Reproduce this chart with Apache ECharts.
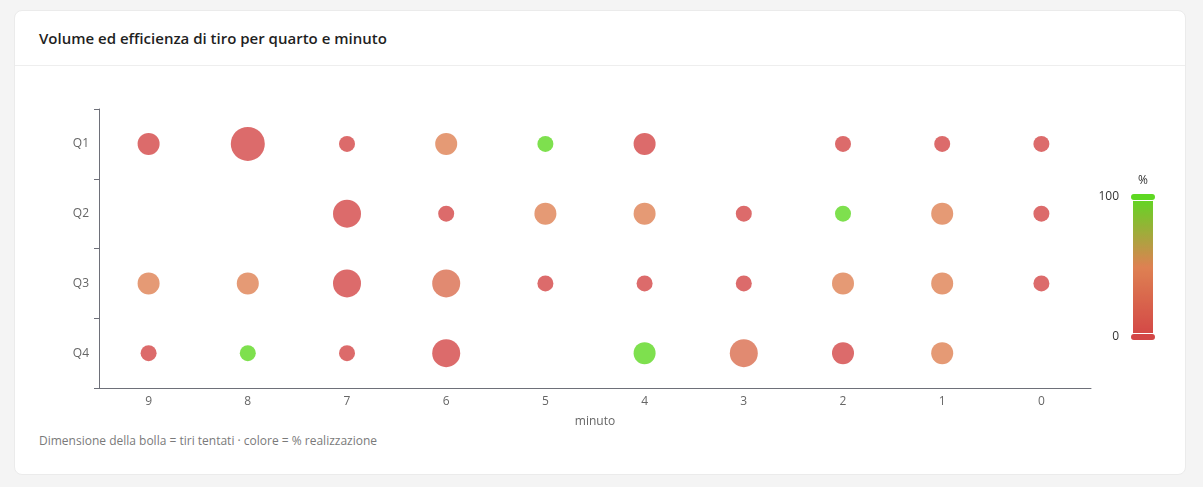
<!DOCTYPE html>
<html>
<head>
<meta charset="utf-8">
<script src="https://cdn.jsdelivr.net/npm/echarts@6/dist/echarts.min.js"></script>
<style>
  html, body { margin: 0; padding: 0; background: #f4f4f4; font-family: "Open Sans", "Noto Sans", sans-serif; }
  .card {
    position: absolute; left: 14px; top: 10px; width: 1172px; height: 465px;
    background: #fff; border: 1px solid #ebebeb; border-radius: 8px; box-sizing: border-box;
  }
  .card-header {
    height: 55px; border-bottom: 1px solid #eeeeee; box-sizing: border-box;
    padding: 0 24px; line-height: 55px; font-size: 15px; font-weight: 600; color: #1f1f1f;
  }
  #chart { position: absolute; left: 0; top: 55px; width: 1170px; height: 360px; }
  .note { position: absolute; left: 24px; top: 421px; font-size: 12px; color: #7a7a7a; }
</style>
</head>
<body>
<div class="card">
  <div class="card-header">Volume ed efficienza di tiro per quarto e minuto</div>
  <div id="chart"></div>
  <div class="note">Dimensione della bolla = tiri tentati · colore = % realizzazione</div>
</div>
<script>
  // categorie
  const minutes = ['9', '8', '7', '6', '5', '4', '3', '2', '1', '0'];
  const quarters = ['Q1', 'Q2', 'Q3', 'Q4'];

  // tiri tentati per minuto (null = nessun tiro)
  const attemptsQ1 = [2, 4, 1, 2, 1, 2, null, 1, 1, 1];
  const attemptsQ2 = [null, null, 3, 1, 2, 2, 1, 1, 2, 1];
  const attemptsQ3 = [2, 2, 3, 3, 1, 1, 1, 2, 2, 1];
  const attemptsQ4 = [1, 1, 1, 3, null, 2, 3, 2, 2, null];

  // % realizzazione
  const pctQ1 = [0, 0, 0, 50, 100, 0, null, 0, 0, 0];
  const pctQ2 = [null, null, 0, 0, 50, 50, 0, 100, 50, 0];
  const pctQ3 = [50, 50, 0, 33, 0, 0, 0, 50, 50, 0];
  const pctQ4 = [0, 100, 0, 0, null, 100, 33, 0, 50, null];

  const attempts = [attemptsQ1, attemptsQ2, attemptsQ3, attemptsQ4];
  const pcts = [pctQ1, pctQ2, pctQ3, pctQ4];

  let points = [];
  attempts.forEach((row, q) => {
    row.forEach((n, m) => {
      if (n != null) {
        points.push([m, q, n, pcts[q][m]]);
      }
    });
  });

  const chart = echarts.init(document.getElementById('chart'));
  const axisColor = '#6e7079';
  const option = {
    animation: false,
    textStyle: { fontFamily: '"Open Sans", "Noto Sans", sans-serif' },
    grid: { left: 84, right: 94, top: 43, bottom: 38, outerBoundsMode: 'none' },
    xAxis: {
      type: 'category',
      data: minutes,
      name: 'minuto',
      nameLocation: 'middle',
      nameGap: 28,
      nameTextStyle: { color: '#666', fontSize: 12 },
      axisLine: { lineStyle: { color: axisColor } },
      axisTick: { alignWithLabel: false, lineStyle: { color: axisColor } },
      axisLabel: { color: '#666', fontSize: 12, margin: 8 },
      splitLine: { show: false }
    },
    yAxis: {
      type: 'category',
      data: quarters,
      inverse: true,
      axisLine: { show: true, lineStyle: { color: axisColor } },
      axisTick: { show: true, lineStyle: { color: axisColor } },
      axisLabel: { color: '#666', fontSize: 12, margin: 10 },
      splitLine: { show: false }
    },
    visualMap: {
      type: 'continuous',
      min: 0,
      max: 100,
      dimension: 3,
      calculable: true,
      text: ['%', ''],
      right: 14,
      top: 94,
      itemWidth: 20,
      itemHeight: 140,
      textStyle: { color: '#333', fontSize: 12 },
      inRange: { color: ['#d34646', '#de8152', '#5ed822'] }
    },
    series: [{
      type: 'scatter',
      data: points,
      symbolSize: function (d) { return 10 + d[2] * 6; },
      itemStyle: { opacity: 0.8 }
    }]
  };
  chart.setOption(option);
</script>
</body>
</html>
